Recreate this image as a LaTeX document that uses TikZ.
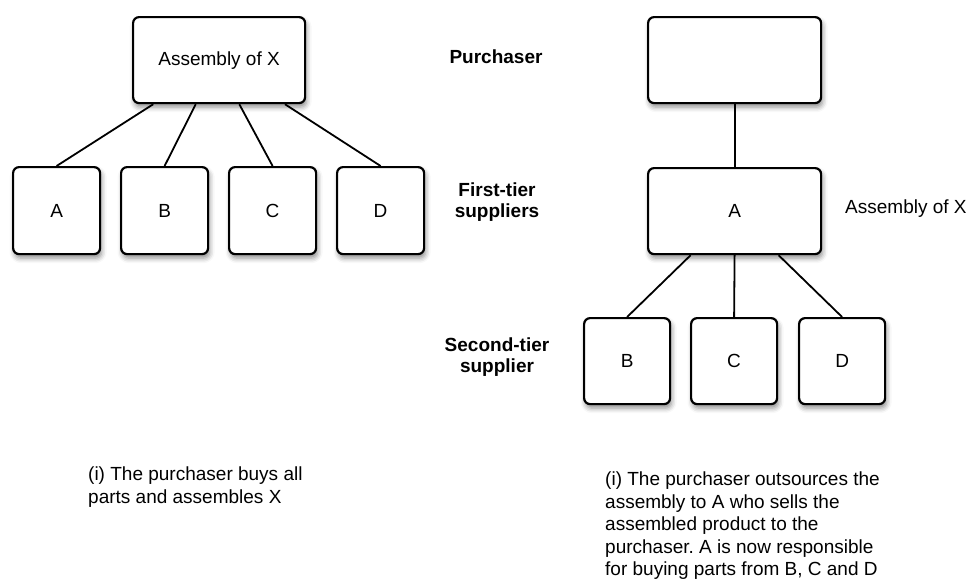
\documentclass[tikz,border=0pt]{standalone}
\usepackage{fontspec}
\setmainfont{Liberation Sans}
\usetikzlibrary{calc,shadows.blur}
\frenchspacing

\newcommand{\bodyfont}{\fontsize{19}{22.5}\selectfont}

\tikzset{
  box/.style={draw=black, line width=2.2pt, rounded corners=6pt, fill=white,
    inner sep=0pt, anchor=north west,
    blur shadow={shadow xshift=1.5pt, shadow yshift=-4pt, shadow blur radius=5pt, shadow opacity=45}},
  link/.style={draw=black, line width=1.8pt},
  tier/.style={font=\fontsize{19}{21.5}\selectfont\bfseries, align=center, inner sep=0pt},
  caption/.style={align=left, anchor=north west, inner sep=0pt},
}

\begin{document}
\begin{tikzpicture}[x=1pt, y=-1pt, font=\bodyfont]
  \useasboundingbox (0,0) rectangle (969,581);

  % ---- left: purchaser assembles X itself ----
  \node[box, minimum width=172pt, minimum height=86pt] (lx) at (132,16) {};
  \node at (lx.center) {Assembly of X};
  \node[box, minimum width=87pt, minimum height=87pt] (la) at (12,166) {};
  \node[box, minimum width=87pt, minimum height=87pt] (lb) at (120,166) {};
  \node[box, minimum width=87pt, minimum height=87pt] (lc) at (228,166) {};
  \node[box, minimum width=87pt, minimum height=87pt] (ld) at (336,166) {};
  \node at (la.center) {A};
  \node at (lb.center) {B};
  \node at (lc.center) {C};
  \node at (ld.center) {D};

  \draw[link] ($(lx.south west)!0.122!(lx.south east)$) -- (la.north);
  \draw[link] ($(lx.south west)!0.366!(lx.south east)$) -- (lb.north);
  \draw[link] ($(lx.south west)!0.616!(lx.south east)$) -- (lc.north);
  \draw[link] ($(lx.south west)!0.878!(lx.south east)$) -- (ld.north);

  % ---- tier labels ----
  \node[tier] (tp) at (496,57) {Purchaser};
  \node[tier] (t1) at (497,202) {First-tier\\suppliers};
  \node[tier] (t2) at (497,357) {Second-tier\\supplier};

  % ---- right: assembly outsourced to A ----
  \node[box, minimum width=173pt, minimum height=86pt] (rp) at (647,16) {};
  \node[box, minimum width=173pt, minimum height=86pt] (ra) at (647,167) {};
  \node at (ra.center) {A};
  \node[anchor=west, inner sep=0pt] (rx) at (845,209) {Assembly of X};
  \node[box, minimum width=86pt, minimum height=86pt] (rb) at (583,317) {};
  \node[box, minimum width=86pt, minimum height=86pt] (rc) at (690,317) {};
  \node[box, minimum width=86pt, minimum height=86pt] (rd) at (798,317) {};
  \node at (rb.center) {B};
  \node at (rc.center) {C};
  \node at (rd.center) {D};

  \draw[link] (rp.south) -- (ra.north);
  \draw[link] ($(ra.south west)!0.249!(ra.south east)$) -- (rb.north);
  \draw[link] (ra.south) -- (rc.north);
  \draw[link] ($(ra.south west)!0.751!(ra.south east)$) -- (rd.north);

  % ---- captions ----
  \node[caption] (capl) at (88,467) {(i) The purchaser buys all\\parts and assembles X};
  \node[caption] (capr) at (605,472) {(i) The purchaser outsources the\\assembly to A who sells the\\assembled product to the\\purchaser. A is now responsible\\for buying parts from B, C and D};
\end{tikzpicture}
\end{document}
